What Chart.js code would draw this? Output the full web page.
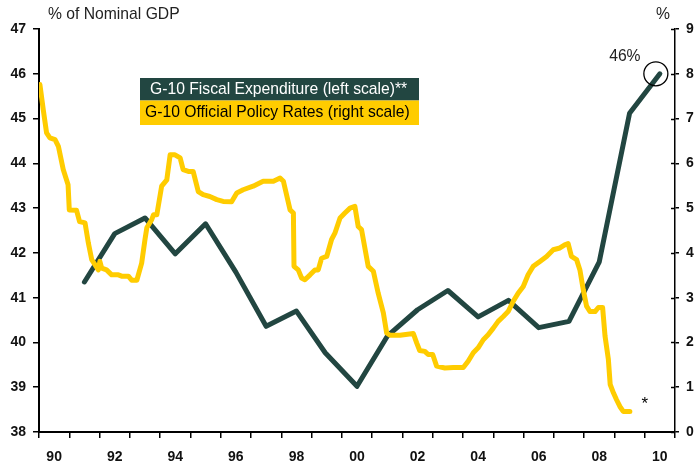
<!DOCTYPE html>
<html>
<head>
<meta charset="utf-8">
<script src="https://cdn.jsdelivr.net/npm/chart.js@4"></script>
<style>
  html, body { margin: 0; padding: 0; background: #fff; }
  #wrap { width: 696px; height: 465px; position: relative; }
</style>
</head>
<body>
<div id="wrap"><canvas id="chart" width="696" height="465"></canvas></div>
<script>
// --- dados ---
const fiscalYears  = [1991.5, 1992.5, 1993.5, 1994.5, 1995.5, 1996.5, 1997.5, 1998.5, 1999.45, 2000.5,
                      2001.5, 2002.5, 2003.5, 2004.5, 2005.5, 2006.5, 2007.5, 2008.5, 2009.5, 2010.5];
const fiscalValues = [41.35, 42.43, 42.78, 41.98, 42.65, 41.57, 40.36, 40.70, 39.77, 39.02,
                      40.14, 40.73, 41.16, 40.57, 40.94, 40.33, 40.47, 41.80, 45.12, 46.0];

const rateYears = [
  1990.03, 1990.14, 1990.25, 1990.36, 1990.53, 1990.64, 1990.80, 1990.96, 1991.00, 1991.24,
  1991.34, 1991.52, 1991.63, 1991.74, 1991.96, 1992.01, 1992.07, 1992.23, 1992.40, 1992.62,
  1992.73, 1992.95, 1993.06, 1993.23, 1993.39, 1993.50, 1993.56, 1993.72, 1993.78, 1993.89,
  1994.05, 1994.22, 1994.33, 1994.49, 1994.66, 1994.76, 1994.93, 1995.09, 1995.26, 1995.42,
  1995.64, 1995.87, 1996.08, 1996.36, 1996.53, 1996.74, 1997.07, 1997.40, 1997.74, 1997.96,
  1998.07, 1998.29, 1998.40, 1998.42, 1998.56, 1998.67, 1998.78, 1998.95, 1999.11, 1999.22,
  1999.33, 1999.50, 1999.66, 1999.77, 1999.94, 2000.10, 2000.27, 2000.43, 2000.54, 2000.65,
  2000.87, 2001.04, 2001.20, 2001.37, 2001.48, 2001.59, 2001.92, 2002.36, 2002.47, 2002.57,
  2002.74, 2002.85, 2003.00, 2003.13, 2003.40, 2003.68, 2004.01, 2004.17, 2004.34, 2004.50,
  2004.67, 2004.83, 2005.00, 2005.16, 2005.33, 2005.49, 2005.66, 2005.82, 2005.99, 2006.15,
  2006.32, 2006.54, 2006.76, 2006.98, 2007.20, 2007.36, 2007.47, 2007.58, 2007.75, 2007.86,
  2007.97, 2008.08, 2008.19, 2008.36, 2008.47, 2008.61, 2008.69, 2008.80, 2008.86, 2008.97,
  2009.07, 2009.18, 2009.29, 2009.51
];
const rateValues = [
  7.76, 7.20, 6.68, 6.57, 6.53, 6.38, 5.86, 5.52, 4.96, 4.95,
  4.70, 4.67, 4.22, 3.85, 3.62, 3.81, 3.66, 3.62, 3.51, 3.51,
  3.48, 3.48, 3.39, 3.39, 3.77, 4.30, 4.56, 4.74, 4.85, 4.85,
  5.49, 5.63, 6.19, 6.19, 6.12, 5.86, 5.82, 5.82, 5.37, 5.30,
  5.26, 5.19, 5.15, 5.14, 5.34, 5.41, 5.49, 5.60, 5.60, 5.67,
  5.60, 4.96, 4.89, 3.70, 3.62, 3.44, 3.40, 3.51, 3.62, 3.62,
  3.88, 3.92, 4.30, 4.44, 4.78, 4.89, 5.00, 5.04, 4.59, 4.52,
  3.70, 3.59, 3.10, 2.66, 2.21, 2.16, 2.16, 2.20, 1.99, 1.82,
  1.80, 1.73, 1.73, 1.47, 1.43, 1.44, 1.44, 1.58, 1.77, 1.88,
  2.06, 2.17, 2.32, 2.47, 2.58, 2.69, 2.92, 3.10, 3.25, 3.51,
  3.70, 3.81, 3.92, 4.07, 4.11, 4.18, 4.21, 3.92, 3.85, 3.62,
  3.18, 2.81, 2.69, 2.69, 2.78, 2.78, 2.14, 1.62, 1.06, 0.87,
  0.72, 0.57, 0.46, 0.46
];

const leftMin = 38, leftMax = 47;
const rightMin = 0, rightMax = 9;
const xMin = 1990, xMax = 2011;

const labelFiscal = "G-10 Fiscal Expenditure (left scale)**";
const labelRates  = "G-10 Official Policy Rates (right scale)";
const leftTitle = "% of Nominal GDP";
const rightTitle = "%";
const peakLabel = "46%";

const DARK = "#224641";
const YELLOW = "#FFCC00";
const FONT = "'Liberation Sans', Arial, sans-serif";

// monta os pontos {x,y}
const fiscalData = fiscalYears.map((x, i) => ({ x: x, y: fiscalValues[i] }));
const rateData = rateYears.map((x, i) => ({ x: x, y: rateValues[i] }));

// textos, caixas da legenda e marcações
const annotations = {
  id: "annotations",
  afterDraw(chart) {
    const c = chart.ctx;
    const xs = chart.scales.x, yl = chart.scales.y, yr = chart.scales.y1;
    c.save();

    // ticks do eixo direito cruzando a linha
    c.strokeStyle = "#000";
    c.lineWidth = 1.5;
    yr.ticks.forEach(t => {
      const py = Math.round(yr.getPixelForValue(t.value)) + 0.5;
      c.beginPath();
      c.moveTo(yr.left - 4, py);
      c.lineTo(yr.left, py);
      c.stroke();
    });

    // títulos dos eixos
    c.fillStyle = "#222";
    c.font = "15.7px " + FONT;
    c.textBaseline = "middle";
    c.textAlign = "left";
    c.fillText(leftTitle, 48, 15);
    c.textAlign = "center";
    c.fillText(rightTitle, 663, 15);

    // legenda (duas faixas)
    c.fillStyle = DARK;
    c.fillRect(140, 78, 279, 22.5);
    c.fillStyle = YELLOW;
    c.fillRect(140, 100.5, 279, 24.5);
    c.textAlign = "left";
    c.font = "15.7px " + FONT;
    c.fillStyle = "#fff";
    c.fillText(labelFiscal, 150, 89.5);
    c.fillStyle = "#000";
    c.fillText(labelRates, 145, 113);

    // círculo no último ponto + rótulo
    const lastX = xs.getPixelForValue(fiscalYears[fiscalYears.length - 1]);
    const lastY = yl.getPixelForValue(fiscalValues[fiscalValues.length - 1]);
    c.strokeStyle = "#000";
    c.lineWidth = 1.3;
    c.beginPath();
    c.arc(lastX - 4, lastY, 12, 0, Math.PI * 2);
    c.stroke();
    c.fillStyle = "#222";
    c.textAlign = "center";
    c.font = "15.7px " + FONT;
    c.fillText(peakLabel, lastX - 35, lastY - 17);

    // asterisco
    c.font = "17px " + FONT;
    c.fillStyle = "#000";
    c.fillText("*", xs.getPixelForValue(2010), yr.getPixelForValue(0.62));

    c.restore();
  }
};

new Chart(document.getElementById("chart"), {
  type: "line",
  data: {
    datasets: [
      {
        label: labelRates,
        data: rateData,
        yAxisID: "y1",
        borderColor: YELLOW,
        borderWidth: 5,
        pointRadius: 0,
        tension: 0,
        borderJoinStyle: "round",
        borderCapStyle: "round",
        order: 0
      },
      {
        label: labelFiscal,
        data: fiscalData,
        yAxisID: "y",
        borderColor: DARK,
        borderWidth: 5,
        pointRadius: 0,
        tension: 0,
        borderJoinStyle: "round",
        borderCapStyle: "round",
        order: 1
      }
    ]
  },
  options: {
    responsive: false,
    animation: false,
    events: [],
    layout: { padding: { top: 29, left: 0, right: 0, bottom: 0 } },
    plugins: {
      legend: { display: false },
      tooltip: { enabled: false }
    },
    scales: {
      x: {
        type: "linear",
        min: xMin,
        max: xMax,
        afterFit(s) { s.height = 33; },
        border: { color: "#000", width: 2 },
        grid: {
          drawOnChartArea: false,
          tickLength: 6,
          lineWidth: 1.5,
          tickColor: ctx => (ctx.tick && Number.isInteger(ctx.tick.value)) ? "#000" : "rgba(0,0,0,0)"
        },
        ticks: {
          stepSize: 0.5,
          autoSkip: false,
          maxRotation: 0,
          padding: 11,
          color: "#111",
          font: { family: FONT, size: 14, weight: "bold" },
          callback: v => {
            if (Number.isInteger(v)) return "";
            const yr = Math.floor(v);
            return yr % 2 === 0 ? String(yr % 100).padStart(2, "0") : "";
          }
        }
      },
      y: {
        position: "left",
        min: leftMin,
        max: leftMax,
        afterFit(s) { s.width = 39; },
        border: { color: "#000", width: 2 },
        grid: { drawOnChartArea: false, tickLength: 6, lineWidth: 1.5, tickColor: "#000" },
        ticks: {
          stepSize: 1,
          padding: 7,
          color: "#111",
          font: { family: FONT, size: 14, weight: "bold" }
        }
      },
      y1: {
        position: "right",
        min: rightMin,
        max: rightMax,
        afterFit(s) { s.width = 21; },
        border: { color: "#000", width: 1.5 },
        grid: { drawOnChartArea: false, tickLength: 4, lineWidth: 1.5, tickColor: "#000" },
        ticks: {
          stepSize: 1,
          padding: 7,
          color: "#111",
          font: { family: FONT, size: 14, weight: "bold" }
        }
      }
    }
  },
  plugins: [annotations]
});
</script>
</body>
</html>
